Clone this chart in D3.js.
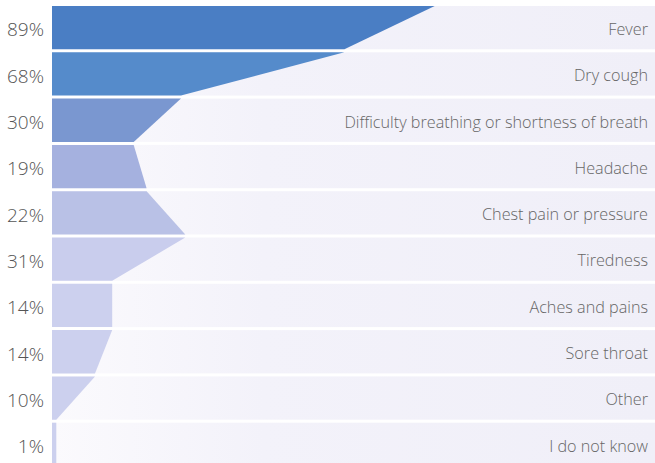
<!DOCTYPE html>
<html><head><meta charset="utf-8">
<script src="https://cdn.jsdelivr.net/npm/d3@7"></script>
<style>
html,body{margin:0;padding:0;background:#fff;}
svg{display:block;}
text{font-family:"Open Sans",sans-serif;font-weight:300;}
</style></head>
<body>
<svg id="chart" width="655" height="463"></svg>
<script>
const categories = ["Fever","Dry cough","Difficulty breathing or shortness of breath","Headache","Chest pain or pressure","Tiredness","Aches and pains","Sore throat","Other","I do not know"];
const values = [89,68,30,19,22,31,14,14,10,1];
const colors = ["#4a7ec4","#558bcb","#7a97d0","#a5b1df","#b9c1e6","#c9cded","#ccd0ee","#ccd0ee","#ccd0ee","#ccd0ee"];

const W = 655, H = 463;
const svg = d3.select("#chart");
const left = 52;
const x = d3.scaleLinear().domain([0,100]).range([left, left+430]);
const y = d3.scaleBand().domain(categories).range([6, 463+3]).paddingInner(0.065).paddingOuter(0);

const defs = svg.append("defs");
const g = defs.append("linearGradient").attr("id","bg").attr("x1","0").attr("x2","1").attr("y1","0").attr("y2","0");
g.append("stop").attr("offset","0").attr("stop-color","#fbfafd");
g.append("stop").attr("offset","0.35").attr("stop-color","#f3f2fa");
g.append("stop").attr("offset","1").attr("stop-color","#f0eff8");

const rows = svg.append("g").selectAll("g").data(categories).join("g");
const bh = y.bandwidth();

rows.append("rect")
  .attr("x", left).attr("y", d => y(d))
  .attr("width", W - left).attr("height", bh)
  .attr("fill", "url(#bg)");

rows.append("path")
  .attr("d", (d,i) => {
    const t = y(d), b = t + bh;
    const v0 = values[i], v1 = i < values.length-1 ? values[i+1] : values[i];
    return `M${left},${t}L${x(v0)},${t}L${x(v1)},${b}L${left},${b}Z`;
  })
  .attr("fill", (d,i) => colors[i]);

rows.append("text")
  .attr("x", 44).attr("y", d => y(d) + bh/2 + 2)
  .attr("dy", "0.36em").attr("text-anchor","end")
  .attr("font-size", 19).attr("fill","#555")
  .text((d,i) => values[i] + "%");

rows.append("text")
  .attr("x", 648).attr("y", d => y(d) + bh/2 + 1.5)
  .attr("dy", "0.36em").attr("text-anchor","end")
  .attr("font-size", 16.2).attr("fill","#666")
  .text(d => d);
</script>
</body></html>
